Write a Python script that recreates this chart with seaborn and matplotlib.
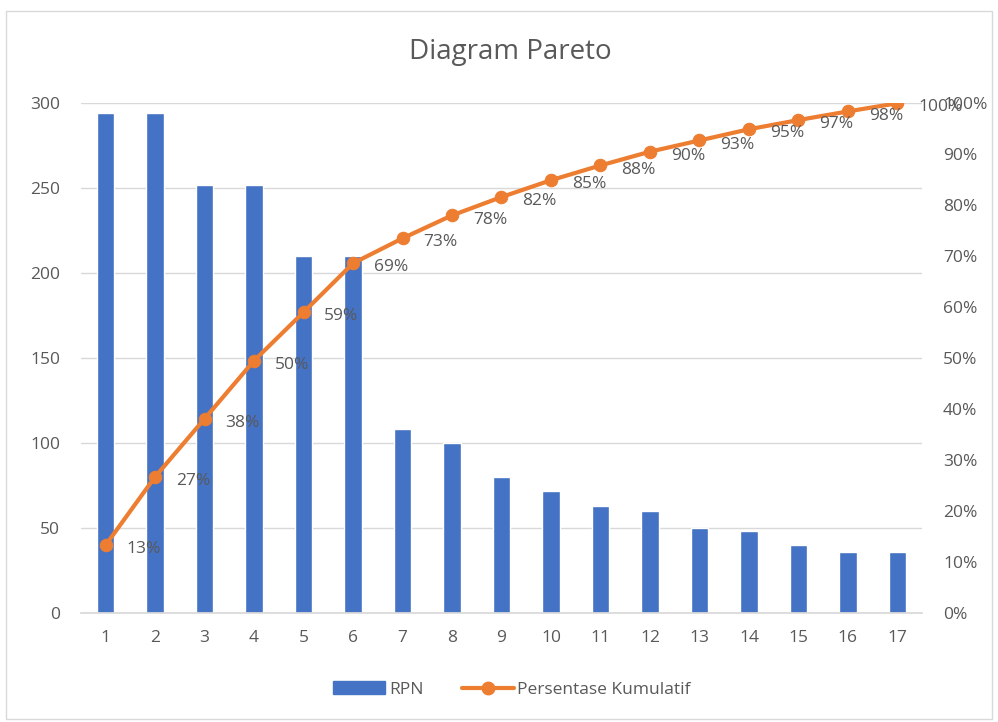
import matplotlib
matplotlib.use("Agg")
import matplotlib.pyplot as plt
import seaborn as sns
import numpy as np
import pandas as pd
from matplotlib.patches import Rectangle
from matplotlib.lines import Line2D
from matplotlib.patches import Patch
from matplotlib.ticker import FuncFormatter

categories = [1, 2, 3, 4, 5, 6, 7, 8, 9, 10, 11, 12, 13, 14, 15, 16, 17]
rpn = [294, 294, 252, 252, 210, 210, 108, 100, 80, 72, 63, 60, 50, 48, 40, 36, 36]
cum_pct = [13.3, 26.7, 38.1, 49.5, 59.0, 68.6, 73.5, 78.0, 81.6, 84.9, 87.8, 90.5, 92.7, 94.9, 96.7, 98.4, 100.0]
cum_labels = ["13%", "27%", "38%", "50%", "59%", "69%", "73%", "78%", "82%", "85%",
              "88%", "90%", "93%", "95%", "97%", "98%", "100%"]
left_ticks = [0, 50, 100, 150, 200, 250, 300]
right_ticks = [0, 10, 20, 30, 40, 50, 60, 70, 80, 90, 100]

BAR = "#4472C4"
LINE = "#ED7D31"
TXT = "#595959"
GRID = "#D9D9D9"
FS = 12.5

sns.set_theme(style="white")
plt.rcParams["font.family"] = ["Open Sans", "DejaVu Sans"]

df = pd.DataFrame({"cat": categories, "rpn": rpn, "cum": cum_pct})

fig = plt.figure(figsize=(9.98, 7.22), dpi=100)
ax = fig.add_axes([0.081, 0.151, 0.843, 0.706])

sns.barplot(data=df, x="cat", y="rpn", native_scale=True, width=0.35,
            color=BAR, saturation=1, ax=ax)
ax.set_xlim(0.5, 17.5)
ax.set_ylim(0, 300)
ax.set_yticks(left_ticks)
ax.yaxis.grid(True, color=GRID, linewidth=1)
ax.set_axisbelow(True)
ax.set_xticks(categories)
ax.set_xticklabels([str(c) for c in categories])
ax.set_xlabel("")
ax.set_ylabel("")
for s in ["top", "right", "left"]:
    ax.spines[s].set_visible(False)
ax.spines["bottom"].set_color(GRID)
ax.tick_params(axis="both", length=0, labelsize=FS, colors=TXT)
ax.tick_params(axis="y", pad=15)
ax.tick_params(axis="x", pad=12)

ax2 = ax.twinx()
sns.lineplot(data=df, x="cat", y="cum", color=LINE, linewidth=3, marker="o",
             markersize=9, markeredgecolor=LINE, ax=ax2, legend=False)
ax2.set_ylim(0, 100)
ax2.set_yticks(right_ticks)
ax2.yaxis.set_major_formatter(FuncFormatter(lambda v, p: f"{int(v)}%"))
ax2.set_ylabel("")
ax2.set_xlabel("")
for s in ["top", "right", "left", "bottom"]:
    ax2.spines[s].set_visible(False)
ax2.tick_params(axis="y", length=0, labelsize=FS, colors=TXT, pad=15)
ax2.set_xlim(0.5, 17.5)

for x, y, lab in zip(categories, cum_pct, cum_labels):
    ax2.annotate(lab, (x, y), xytext=(15, -3), textcoords="offset points",
                 ha="left", va="center", fontsize=FS, color=TXT)

fig.text(0.511, 0.928, "Diagram Pareto", ha="center", va="center",
         fontsize=20, color=TXT)

handles = [Patch(facecolor=BAR, edgecolor=BAR),
           Line2D([0], [0], color=LINE, linewidth=3, marker="o", markersize=9)]
fig.legend(handles, ["RPN", "Persentase Kumulatif"], loc="center",
           bbox_to_anchor=(0.513, 0.045), ncol=2, frameon=False, fontsize=FS,
           labelcolor=TXT, handlelength=3.0, columnspacing=2.2, handletextpad=0.2)

fig.patches.append(Rectangle((0.006, 0.004), 0.988, 0.981, transform=fig.transFigure,
                             fill=False, edgecolor=GRID, linewidth=1))

fig.savefig("out.png", dpi=100)
